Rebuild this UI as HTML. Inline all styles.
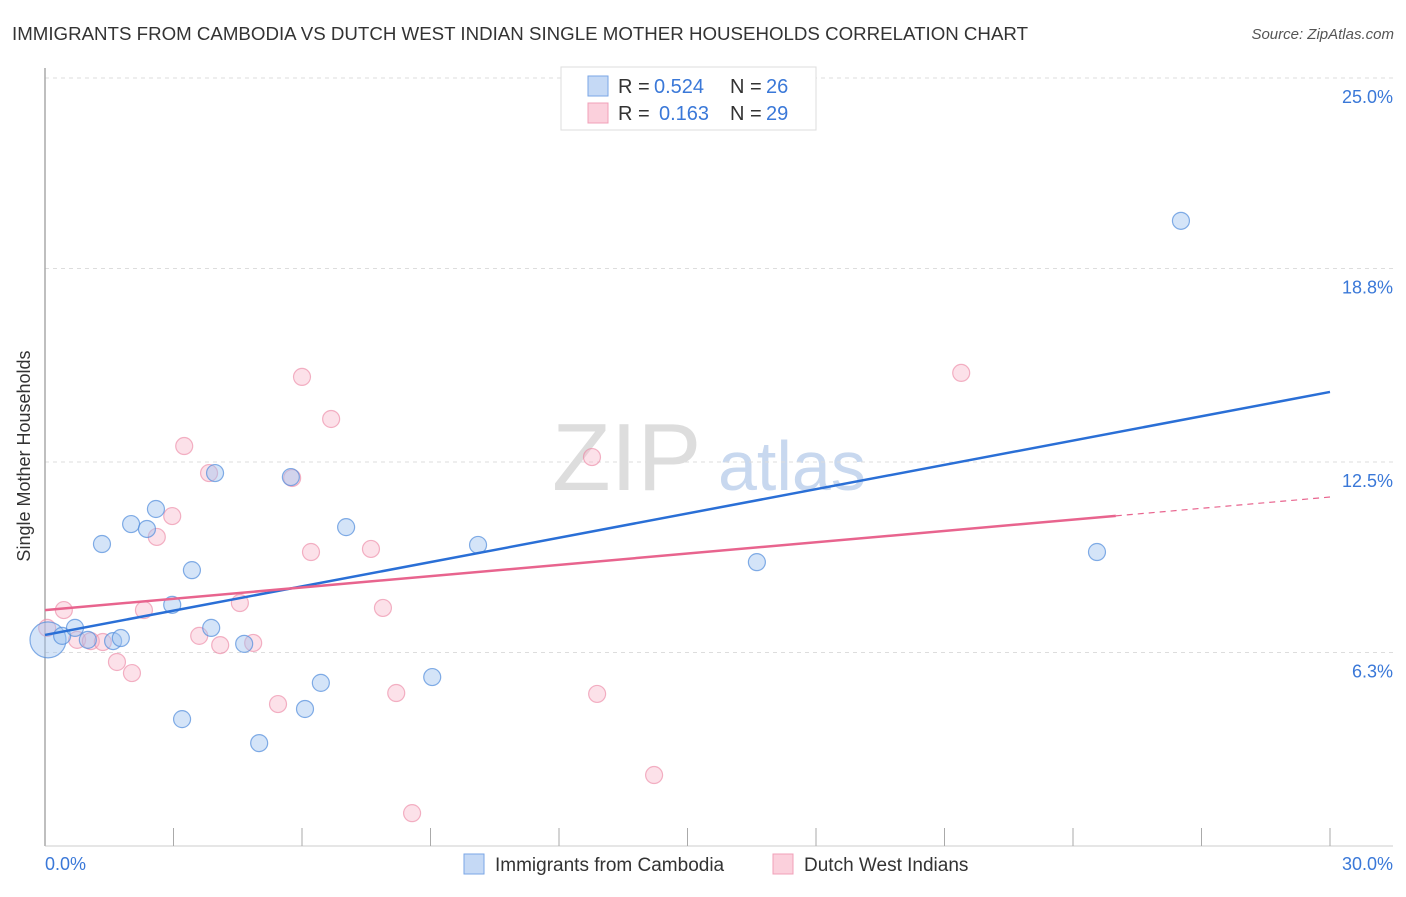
<!DOCTYPE html>
<html><head><meta charset="utf-8"><style>
body{margin:0;background:#fff;font-family:"Liberation Sans",sans-serif;}
svg text{font-family:"Liberation Sans",sans-serif;}
</style></head><body>
<svg width="1406" height="892" id="chart">
<text x="12" y="40" font-size="18" fill="#333" textLength="1016" lengthAdjust="spacingAndGlyphs">IMMIGRANTS FROM CAMBODIA VS DUTCH WEST INDIAN SINGLE MOTHER HOUSEHOLDS CORRELATION CHART</text>
<text x="1394" y="39" font-size="15" fill="#555" font-style="italic" text-anchor="end">Source: ZipAtlas.com</text>
<text x="30" y="456" font-size="18" fill="#333" text-anchor="middle" transform="rotate(-90 30 456)">Single Mother Households</text>
<g><text x="552" y="490" font-size="96" fill="#ddd" font-family="Liberation Serif">ZIP</text><text x="718" y="490" font-size="70" fill="#c8d8ef">atlas</text></g>
<g id="grid"></g><g id="marks"></g>
<g>
<rect x="561" y="67" width="255" height="63" fill="#fff" stroke="#ddd"/>
<rect x="588" y="76" width="20" height="20" fill="#c5d9f5" stroke="#7aa6e6"/>
<rect x="588" y="103" width="20" height="20" fill="#fbd0dc" stroke="#f0a0b8"/>
<text x="618" y="93" font-size="20" fill="#333">R =</text>
<text x="654" y="93" font-size="20" fill="#3a78d8">0.524</text>
<text x="730" y="93" font-size="20" fill="#333">N =</text>
<text x="766" y="93" font-size="20" fill="#3a78d8">26</text>
<text x="618" y="120" font-size="20" fill="#333">R =</text>
<text x="659" y="120" font-size="20" fill="#3a78d8">0.163</text>
<text x="730" y="120" font-size="20" fill="#333">N =</text>
<text x="766" y="120" font-size="20" fill="#3a78d8">29</text>
</g>
<g>
<rect x="464" y="854" width="20" height="20" fill="#c5d9f5" stroke="#7aa6e6"/>
<text x="495" y="871" font-size="19" fill="#333">Immigrants from Cambodia</text>
<rect x="773" y="854" width="20" height="20" fill="#fbd0dc" stroke="#f0a0b8"/>
<text x="804" y="871" font-size="19" fill="#333">Dutch West Indians</text>
</g>
</svg>
<script>
const blueX=[0.07,0.40,0.70,1.00,1.59,1.77,1.33,2.01,2.38,2.59,2.97,3.43,3.20,3.88,3.97,4.65,5.00,5.74,6.07,6.44,7.03,9.04,10.11,16.62,24.56,26.52];
const blueY=[6.71,6.84,7.10,6.71,6.67,6.77,9.83,10.48,10.32,10.97,7.85,8.98,4.13,7.10,12.14,6.58,3.35,12.01,4.46,5.31,10.38,5.50,9.80,9.24,9.57,20.35];
const pinkX=[0.05,0.44,0.75,1.07,1.35,1.68,2.03,2.31,2.61,2.97,3.25,3.60,3.83,4.09,4.55,4.86,5.44,5.77,6.00,6.21,6.68,7.61,7.89,8.20,8.57,12.77,12.89,14.22,21.39];
const pinkY=[7.10,7.68,6.71,6.67,6.64,5.99,5.63,7.68,10.06,10.74,13.02,6.84,12.14,6.54,7.91,6.61,4.62,11.98,15.27,9.57,13.90,9.67,7.75,4.98,1.07,12.66,4.95,2.31,15.40];
const blueTrend=[6.87,14.78];
const pinkTrend=[7.68,11.36];
const yTicks=[6.3,12.5,18.8,25.0];
const yTickLabels=["6.3%","12.5%","18.8%","25.0%"];
const xTicks=[0,3,6,9,12,15,18,21,24,27,30];
const NS='http://www.w3.org/2000/svg';
const sx=v=>45+v*1285/30;
const sy=v=>846-v*30.72;
function mk(t,a,p){const e=document.createElementNS(NS,t);for(const k in a)e.setAttribute(k,a[k]);p.appendChild(e);return e;}
const g=document.getElementById('grid'),m=document.getElementById('marks');
yTicks.forEach((v,i)=>{
 const l=mk('line',{x1:45,x2:1393,y1:sy(v),y2:sy(v),stroke:'#ddd','stroke-dasharray':'4,4'},g);
 
 
 const t=mk('text',{x:1393,y:sy(v)+25,'font-size':18,fill:'#3a78d8','text-anchor':'end'},g);
 t.textContent=yTickLabels[i];
 
 
});
const ax=mk('line',{x1:45,x2:45,y1:68,y2:846,stroke:'#aaa','stroke-width':1.5},g);


const bx=mk('line',{x1:45,x2:1393,y1:846,y2:846,stroke:'#ccc'},g);


xTicks.forEach(v=>{
 const l=mk('line',{x1:sx(v),x2:sx(v),y1:828,y2:846,stroke:'#aaa'},g);
 
 
});
const xl0=mk('text',{x:45,y:870,'font-size':18,fill:'#3a78d8'},g);xl0.textContent='0.0%';


const xl1=mk('text',{x:1393,y:870,'font-size':18,fill:'#3a78d8','text-anchor':'end'},g);xl1.textContent='30.0%';


pinkX.forEach((x,i)=>{
 const c=mk('circle',{cx:sx(x),cy:sy(pinkY[i]),r:8.5,fill:'rgba(248,180,200,0.4)',stroke:'rgba(235,130,160,0.6)','stroke-width':1.2},m);
 
 
});
blueX.forEach((x,i)=>{
 const c=mk('circle',{cx:sx(x),cy:sy(blueY[i]),r:i==0?18:8.5,fill:'rgba(160,195,240,0.45)',stroke:'rgba(80,140,220,0.7)','stroke-width':1.2},m);
 
 
});
const bl=mk('line',{x1:sx(0),y1:sy(blueTrend[0]),x2:sx(30),y2:sy(blueTrend[1]),stroke:'#2a6fd6','stroke-width':2.5},m);


const pe=pinkTrend[0]+(pinkTrend[1]-pinkTrend[0])*25/30;
const pl=mk('line',{x1:sx(0),y1:sy(pinkTrend[0]),x2:sx(25),y2:sy(pe),stroke:'#e8648e','stroke-width':2.5},m);


const pd=mk('line',{x1:sx(25),y1:sy(pe),x2:sx(30),y2:sy(pinkTrend[1]),stroke:'#e8648e','stroke-width':1.2,'stroke-dasharray':'6,5'},m);


</script>
</body></html>
